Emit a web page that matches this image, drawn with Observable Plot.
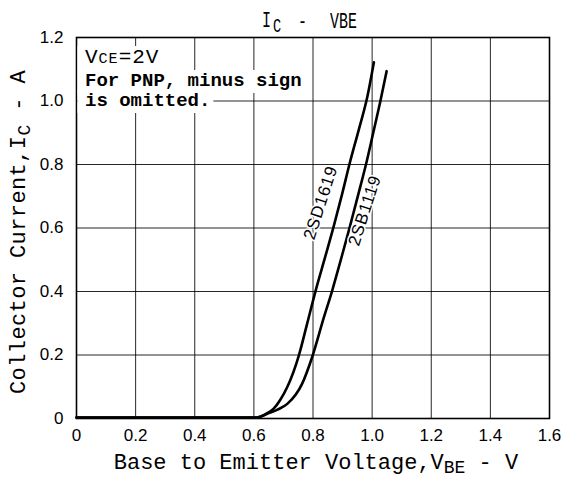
<!DOCTYPE html>
<html><head><meta charset="utf-8">
<script src="https://cdn.jsdelivr.net/npm/d3@7"></script>
<script src="https://cdn.jsdelivr.net/npm/@observablehq/plot@0.6"></script>
<style>body{margin:0;background:#fff}</style>
</head><body><div id="chart"></div>
<script>
// Axis ticks
const xTicks = [0, 0.2, 0.4, 0.6, 0.8, 1.0, 1.2, 1.4, 1.6];
const yTicks = [0, 0.2, 0.4, 0.6, 0.8, 1.0, 1.2];

// 2SD1619 curve (V_BE in V, I_C in A)
const vbe2SD1619 = [0, 0.3, 0.6, 0.617, 0.64, 0.667, 0.69, 0.713, 0.752, 0.780, 0.809, 0.840, 0.870, 0.898, 0.925, 0.955, 0.984, 1.006];
const ic2SD1619  = [0.003, 0.003, 0.003, 0.005, 0.014, 0.031, 0.06, 0.099, 0.198, 0.298, 0.403, 0.505, 0.605, 0.705, 0.807, 0.91, 1.014, 1.122];

// 2SB1119 curve
const vbe2SB1119 = [0, 0.3, 0.6, 0.62, 0.645, 0.68, 0.713, 0.763, 0.797, 0.837, 0.865, 0.895, 0.925, 0.953, 0.981, 1.005, 1.028, 1.049];
const ic2SB1119  = [0.003, 0.003, 0.003, 0.005, 0.015, 0.028, 0.046, 0.109, 0.193, 0.319, 0.403, 0.503, 0.605, 0.705, 0.807, 0.905, 1.0, 1.094];

// Curve labels
const curveNames = ["2SD1619", "2SB1119"];
const labelV = [0.826, 0.975];
const labelI = [0.680, 0.655];

const toRows = (xs, ys) => xs.map((x, i) => ({x, y: ys[i]}));
const rowsSD = toRows(vbe2SD1619, ic2SD1619);
const rowsSB = toRows(vbe2SB1119, ic2SB1119);
const labelRows = curveNames.map((t, i) => ({t, x: labelV[i], y: labelI[i]}));

const chart = Plot.plot({
  width: 562,
  height: 477,
  marginLeft: 76,
  marginRight: 13,
  marginTop: 37,
  marginBottom: 59,
  style: {fontFamily: "Liberation Sans, Arial, sans-serif", fontSize: "17px", background: "#fff", color: "#000"},
  x: {domain: [0, 1.6]},
  y: {domain: [0, 1.2]},
  marks: [
    Plot.gridX(xTicks, {stroke: "#000", strokeOpacity: 0.85, strokeWidth: 1}),
    Plot.gridY(yTicks, {stroke: "#000", strokeOpacity: 0.85, strokeWidth: 1}),
    Plot.frame({stroke: "#000", strokeWidth: 1.6}),
    Plot.axisX(xTicks, {tickSize: 0, tickPadding: 10, label: null, fontSize: 17,
      tickFormat: d => d === 0 ? "0" : d.toFixed(1)}),
    Plot.axisY(yTicks, {tickSize: 0, tickPadding: 13, label: null, fontSize: 17,
      tickFormat: d => d === 0 ? "0" : d.toFixed(1)}),
    Plot.line(rowsSD, {x: "x", y: "y", curve: "monotone-x", stroke: "#000", strokeWidth: 2.6}),
    Plot.line(rowsSB, {x: "x", y: "y", curve: "monotone-x", stroke: "#000", strokeWidth: 2.6}),
    Plot.text(labelRows, {x: "x", y: "y", text: "t", rotate: -72, fontSize: 17,
      fontFamily: "Liberation Sans, Arial, sans-serif", fill: "#000", stroke: "#fff", strokeWidth: 3})
  ]
});

document.getElementById("chart").appendChild(chart);

const svg = d3.select(chart);
svg.selectAll("g[aria-label='text'] text").style("letter-spacing", "0.8px");

const mono = "Liberation Mono, DejaVu Sans Mono, monospace";

// Title (tall, narrow lettering)
const titleG = svg.append("g").attr("font-family", mono).attr("fill", "#000").attr("text-anchor", "start");
const titleParts = [["I", 262, 27, 22], ["C", 273, 32, 20], ["-", 298, 28, 22], ["VBE", 330, 28, 22]];
titleParts.forEach(([s, x, y, fs]) => {
  titleG.append("text")
    .attr("transform", `translate(${x},${y}) scale(0.68,1)`)
    .attr("font-size", fs).text(s);
});

// Annotation block with white backing
const ann = svg.append("g").attr("font-family", mono).attr("fill", "#000").attr("text-anchor", "start");
const lines = [];
const t1 = ann.append("text").attr("x", 85).attr("y", 63).attr("font-size", 21).style("letter-spacing", "1px");
t1.append("tspan").text("V");
t1.append("tspan").attr("font-size", 15).text("CE");
t1.append("tspan").text("=2V");
lines.push(t1);
lines.push(ann.append("text").attr("x", 85).attr("y", 86).attr("font-size", 19).attr("font-weight", "bold")
  .text("For PNP, minus sign"));
lines.push(ann.append("text").attr("x", 85).attr("y", 106).attr("font-size", 19).attr("font-weight", "bold")
  .text("is omitted."));
lines.forEach(t => {
  const b = t.node().getBBox();
  ann.insert("rect", () => t.node())
    .attr("x", 77.5).attr("y", b.y)
    .attr("width", b.x + b.width + 3 - 77.5).attr("height", b.height + 1)
    .attr("fill", "#fff");
});

// X axis label
const xl = svg.append("text")
  .attr("x", 316).attr("y", 469)
  .attr("text-anchor", "middle")
  .attr("font-family", mono).attr("font-size", 22).attr("fill", "#000");
xl.append("tspan").text("Base to Emitter Voltage,V");
xl.append("tspan").attr("dy", 4).attr("font-size", 18).text("BE");
xl.append("tspan").attr("dy", -4).text(" - V");

// Y axis label
const yl = svg.append("text")
  .attr("transform", "translate(25,232) rotate(-90)")
  .attr("text-anchor", "middle")
  .attr("font-family", mono).attr("font-size", 22).attr("fill", "#000")
  .style("letter-spacing", "0.4px");
yl.append("tspan").text("Collector Current,I");
yl.append("tspan").attr("dy", 5).attr("font-size", 18).text("C");
yl.append("tspan").attr("dy", -5).text(" - A");
</script>
</body></html>
